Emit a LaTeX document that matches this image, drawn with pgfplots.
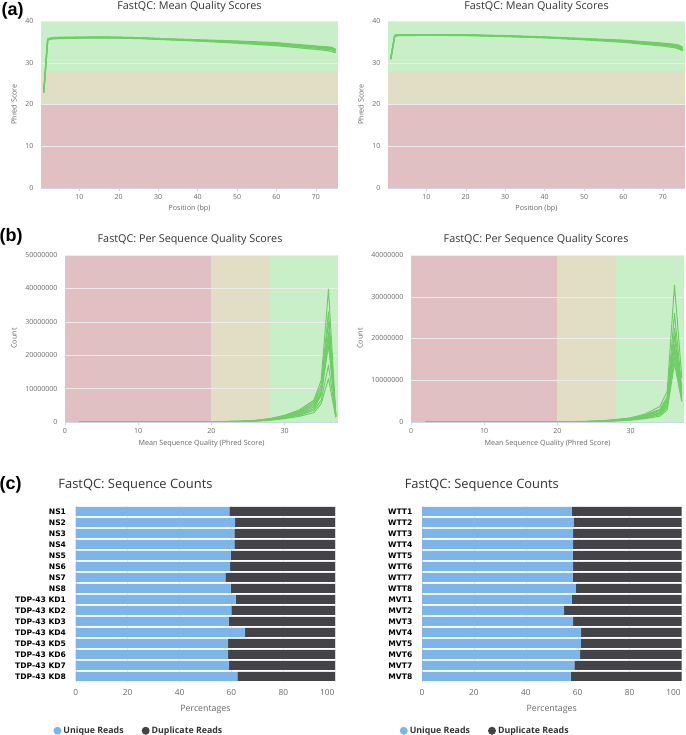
\documentclass[border=0pt]{standalone}
\usepackage{fontspec}
\setmainfont{Open Sans}
\newfontfamily\catfont{DejaVu Sans}
\newfontfamily\tagfont{Liberation Sans}
\usepackage{pgfplots}
\usepackage{pgfplotstable}
\pgfplotsset{compat=1.18}

\definecolor{bandgreen}{RGB}{200,239,200}
\definecolor{bandorange}{RGB}{226,221,197}
\definecolor{bandred}{RGB}{224,192,195}
\definecolor{lineg}{RGB}{110,205,100}
\definecolor{uniq}{RGB}{124,181,236}
\definecolor{dupl}{RGB}{67,67,72}
\definecolor{axisc}{RGB}{204,214,235}
\definecolor{gridc}{RGB}{236,236,236}
\definecolor{ticktxt}{RGB}{102,102,102}
\definecolor{titletxt}{RGB}{51,51,51}

% mean quality, left
\pgfplotstableread{
x  c1   c2   c3   c4   c5
1  22.8 22.9 23.0 23.0 23.1
2  35.4 35.5 35.6 35.6 35.7
3  35.7 35.8 35.9 35.9 36.0
5  35.8 35.9 36.0 36.0 36.1
10 35.9 36.0 36.0 36.1 36.1
15 35.9 36.0 36.1 36.1 36.2
20 35.9 36.0 36.0 36.1 36.1
25 35.8 35.9 35.9 36.0 36.0
30 35.6 35.7 35.7 35.8 35.8
40 35.2 35.3 35.3 35.4 35.5
50 34.7 34.9 35.0 35.1 35.2
60 34.1 34.3 34.5 34.6 34.8
70 33.2 33.5 33.7 33.8 34.0
73 32.9 33.2 33.4 33.6 33.8
74 32.7 33.1 33.3 33.5 33.7
75 32.4 32.7 32.9 33.1 33.2
}\meanleft

% mean quality, right
\pgfplotstableread{
x  c1   c2   c3   c4   c5
1  30.8 30.9 31.0 31.0 31.1
2  36.3 36.4 36.5 36.5 36.6
3  36.5 36.6 36.6 36.7 36.7
5  36.5 36.6 36.6 36.7 36.7
10 36.6 36.6 36.7 36.7 36.7
20 36.5 36.6 36.6 36.7 36.7
30 36.3 36.3 36.4 36.4 36.5
40 36.0 36.0 36.1 36.1 36.2
50 35.5 35.6 35.7 35.7 35.8
60 34.9 35.1 35.2 35.3 35.4
70 34.0 34.2 34.4 34.5 34.7
73 33.6 33.9 34.1 34.3 34.4
74 33.3 33.6 33.9 34.1 34.2
75 32.9 33.1 33.3 33.5 33.7
}\meanright

% per sequence quality, left
\pgfplotstableread{
x  c1       c2       c3       c4       c5       c6       c7       c8
2  20000    20000    20000    20000    20000    20000    20000    20000
10 30000    30000    30000    30000    30000    30000    30000    30000
20 80000    70000    70000    60000    60000    50000    50000    40000
24 250000   200000   200000   200000   150000   150000   120000   100000
26 500000   450000   400000   400000   350000   300000   300000   250000
28 1000000  950000   900000   850000   800000   700000   600000   500000
30 2000000  1900000  1800000  1600000  1500000  1400000  1200000  1000000
32 3600000  3300000  3000000  2800000  2500000  2200000  2000000  1700000
34 6500000  6000000  5500000  5000000  4500000  4000000  3500000  2800000
35 12500000 11000000 10000000 9000000  8500000  8000000  6500000  5500000
36 39800000 33000000 30000000 27000000 25000000 23000000 17000000 13000000
37 2200000  2000000  1900000  1800000  1700000  1600000  1500000  1400000
}\seqleft

% per sequence quality, right
\pgfplotstableread{
x  c1       c2       c3       c4       c5       c6       c7       c8
2  20000    20000    20000    20000    20000    20000    20000    20000
10 25000    25000    25000    25000    25000    25000    25000    25000
20 50000    50000    40000    40000    40000    30000    30000    30000
24 150000   120000   120000   100000   100000   90000    80000    70000
26 300000   250000   230000   200000   200000   180000   150000   130000
28 600000   500000   450000   420000   380000   340000   300000   260000
30 1000000  900000   800000   750000   650000   600000   500000   450000
32 1900000  1700000  1500000  1400000  1200000  1100000  1000000  800000
34 3700000  3000000  2800000  2500000  2200000  2000000  1700000  1400000
35 7300000  6000000  5500000  5000000  4500000  4000000  3500000  2900000
36 32800000 26000000 22500000 20500000 18500000 17000000 15500000 14000000
37 10500000 8000000  7000000  6500000  6000000  5500000  5000000  4900000
}\seqright

% sequence counts, percentages
\pgfplotstableread{
i  unique dup
0  59.2 40.8
1  61.4 38.6
2  61.1 38.9
3  61.1 38.9
4  59.7 40.3
5  59.5 40.5
6  57.7 42.3
7  59.7 40.3
8  61.6 38.4
9  60.0 40.0
10 58.9 41.1
11 65.3 34.7
12 58.7 41.3
13 58.7 41.3
14 59.1 40.9
15 62.3 37.7
}\countleft

\pgfplotstableread{
i  unique dup
0  57.7 42.3
1  58.5 41.5
2  58.2 41.8
3  58.2 41.8
4  58.0 42.0
5  58.2 41.8
6  58.0 42.0
7  59.3 40.7
8  57.7 42.3
9  54.8 45.2
10 58.2 41.8
11 61.3 38.7
12 61.2 38.8
13 60.9 39.1
14 58.7 41.3
15 57.3 42.7
}\countright

\pgfplotsset{
  fastqc/.style={
    scale only axis,
    set layers,
    anchor=south west,
    axis y line=left,
    axis x line=bottom,
    axis line style={draw=axisc,-},
    x axis line style={draw=axisc,-},
    y axis line style={draw=none},
    tick style={draw=none},
    xtick style={draw=axisc,thin},
    tick align=outside,
    major tick length=3pt,
    ymajorgrids,
    grid style={gridc,thin},
    tick label style={font=\fontsize{7}{8}\selectfont,text=ticktxt},
    yticklabel style={xshift=-1pt},
    /pgf/number format/assume math mode=true,
    /pgf/number format/fixed,
    /pgf/number format/1000 sep={},
    scaled y ticks=false,
    xlabel style={font=\fontsize{7.2}{8}\selectfont,text=ticktxt},
    ylabel style={font=\fontsize{7.2}{8}\selectfont,text=ticktxt},
    title style={font=\fontsize{10.8}{12}\selectfont,text=titletxt},
  },
  band/.style={on layer=axis background,draw=none,fill=#1},
  qline/.style={lineg,line width=1.2pt,line join=round,no markers},
  sline/.style={lineg,line width=1pt,line join=round,no markers},
  meanaxis/.style={
    fastqc,width=297pt,height=167pt,
    xmin=0.3,xmax=75.6,ymin=0,ymax=40,
    xtick={10,20,...,70},ytick={0,10,20,30,40},
    xlabel={Position (bp)},ylabel={Phred Score},
    title={FastQC: Mean Quality Scores},
    title style={at={(0.5,1)},anchor=center,yshift=8.5pt},
    xlabel style={at={(0.5,0)},anchor=center,yshift=-21pt},
    ylabel style={at={(0,0.5)},anchor=center,yshift=27pt},
  },
  seqaxis/.style={
    fastqc,width=273pt,height=167pt,
    xmin=0,xmax=37.3,ymin=0,
    xtick={0,10,20,30},
    xlabel={Mean Sequence Quality (Phred Score)},ylabel={Count},
    title={FastQC: Per Sequence Quality Scores},
    title style={at={(0.458,1)},anchor=center,yshift=9pt},
    xlabel style={at={(0.5,0)},anchor=center,yshift=-21.5pt},
    ylabel style={at={(0,0.5)},anchor=center,yshift=51pt},
  },
  countaxis/.style={
    scale only axis,
    set layers,
    anchor=south west,
    width=259.5pt,height=176pt,
    xbar stacked,
    bar width=9pt,
    y dir=reverse,
    xmin=0,xmax=100,ymin=-0.5,ymax=15.5,
    axis y line=left,
    axis x line=bottom,
    x axis line style={draw=none},
    y axis line style={draw=axisc,-},
    xmajorgrids,
    grid style={gridc,thin},
    xtick={0,20,40,60,80,100},
    xticklabels={0,20,40,60,80,100\kern16pt},
    ytick={0,1,...,15},
    tick style={draw=none},
    xticklabel style={font=\fontsize{8.3}{9}\selectfont,text=ticktxt,yshift=-2pt},
    yticklabel style={font=\catfont\bfseries\fontsize{7.6}{8}\selectfont,text=black,xshift=-4pt},
    /pgf/number format/assume math mode=true,
    xlabel={Percentages},
    xlabel style={font=\fontsize{8.8}{10}\selectfont,text=ticktxt,at={(0.5,0)},anchor=center,yshift=-27pt},
    title={FastQC: Sequence Counts},
    title style={font=\fontsize{12.9}{15}\selectfont,text=titletxt,anchor=west,yshift=15pt},
    legend columns=2,
    legend cell align=left,
    legend style={draw=none,fill=none,anchor=west,font=\bfseries\fontsize{8.8}{10}\selectfont,text=titletxt,
      /tikz/every even column/.append style={column sep=16pt}},
    legend image code/.code={\fill[##1] (-3pt,0pt) circle (4pt);},
  },
  ubar/.style={fill=uniq,draw=none},
  dbar/.style={fill=dupl,draw=none},
}

\begin{document}
\begin{tikzpicture}

\node[anchor=west,font=\tagfont\bfseries\fontsize{18}{20}\selectfont] at (-2pt,724pt) {(a)};
\node[anchor=west,font=\tagfont\bfseries\fontsize{18}{20}\selectfont] at (-4pt,498pt) {(b)};
\node[anchor=west,font=\tagfont\bfseries\fontsize{18}{20}\selectfont] at (-4pt,250pt) {(c)};

% (a) left
\begin{axis}[meanaxis,at={(41pt,547pt)}]
\addplot[band=bandred] coordinates {(0.3,0)(75.6,0)(75.6,20)(0.3,20)} --cycle;
\addplot[band=bandorange] coordinates {(0.3,20)(75.6,20)(75.6,28)(0.3,28)} --cycle;
\addplot[band=bandgreen] coordinates {(0.3,28)(75.6,28)(75.6,40)(0.3,40)} --cycle;
\pgfplotsinvokeforeach{1,...,5}{\addplot[qline] table[x=x,y=c#1]{\meanleft};}
\end{axis}

% (a) right
\begin{axis}[meanaxis,at={(388pt,547pt)}]
\addplot[band=bandred] coordinates {(0.3,0)(75.6,0)(75.6,20)(0.3,20)} --cycle;
\addplot[band=bandorange] coordinates {(0.3,20)(75.6,20)(75.6,28)(0.3,28)} --cycle;
\addplot[band=bandgreen] coordinates {(0.3,28)(75.6,28)(75.6,40)(0.3,40)} --cycle;
\pgfplotsinvokeforeach{1,...,5}{\addplot[qline] table[x=x,y=c#1]{\meanright};}
\end{axis}

% (b) left
\begin{axis}[seqaxis,at={(65pt,313pt)},ymax=50000000,
  ytick={0,10000000,20000000,30000000,40000000,50000000}]
\addplot[band=bandred] coordinates {(0,0)(20,0)(20,50000000)(0,50000000)} --cycle;
\addplot[band=bandorange] coordinates {(20,0)(28,0)(28,50000000)(20,50000000)} --cycle;
\addplot[band=bandgreen] coordinates {(28,0)(37.3,0)(37.3,50000000)(28,50000000)} --cycle;
\pgfplotsinvokeforeach{1,...,8}{\addplot[sline] table[x=x,y=c#1]{\seqleft};}
\end{axis}

% (b) right
\begin{axis}[seqaxis,at={(411pt,313pt)},ymax=40000000,
  ytick={0,10000000,20000000,30000000,40000000}]
\addplot[band=bandred] coordinates {(0,0)(20,0)(20,40000000)(0,40000000)} --cycle;
\addplot[band=bandorange] coordinates {(20,0)(28,0)(28,40000000)(20,40000000)} --cycle;
\addplot[band=bandgreen] coordinates {(28,0)(37.3,0)(37.3,40000000)(28,40000000)} --cycle;
\pgfplotsinvokeforeach{1,...,8}{\addplot[sline] table[x=x,y=c#1]{\seqright};}
\end{axis}

% (c) left
\begin{axis}[countaxis,at={(75.7pt,53pt)},
  title style={at={(-0.08,1)}},
  legend style={at={(-0.098,-0.277)}},
  yticklabels={NS1,NS2,NS3,NS4,NS5,NS6,NS7,NS8,TDP-43 KD1,TDP-43 KD2,TDP-43 KD3,TDP-43 KD4,TDP-43 KD5,TDP-43 KD6,TDP-43 KD7,TDP-43 KD8}]
\addplot[ubar] table[x=unique,y=i]{\countleft};
\addplot[dbar] table[x=dup,y=i]{\countleft};
\legend{Unique Reads,Duplicate Reads}
\end{axis}

% (c) right
\begin{axis}[countaxis,at={(422pt,53pt)},
  title style={at={(-0.08,1)}},
  legend style={at={(-0.098,-0.277)}},
  yticklabels={WTT1,WTT2,WTT3,WTT4,WTT5,WTT6,WTT7,WTT8,MVT1,MVT2,MVT3,MVT4,MVT5,MVT6,MVT7,MVT8}]
\addplot[ubar] table[x=unique,y=i]{\countright};
\addplot[dbar] table[x=dup,y=i]{\countright};
\legend{Unique Reads,Duplicate Reads}
\end{axis}

% page is exactly the reference's size; nothing above may grow it
\pgfresetboundingbox
\path[use as bounding box] (0pt,0pt) rectangle (685pt,735pt);
\end{tikzpicture}
\end{document}
